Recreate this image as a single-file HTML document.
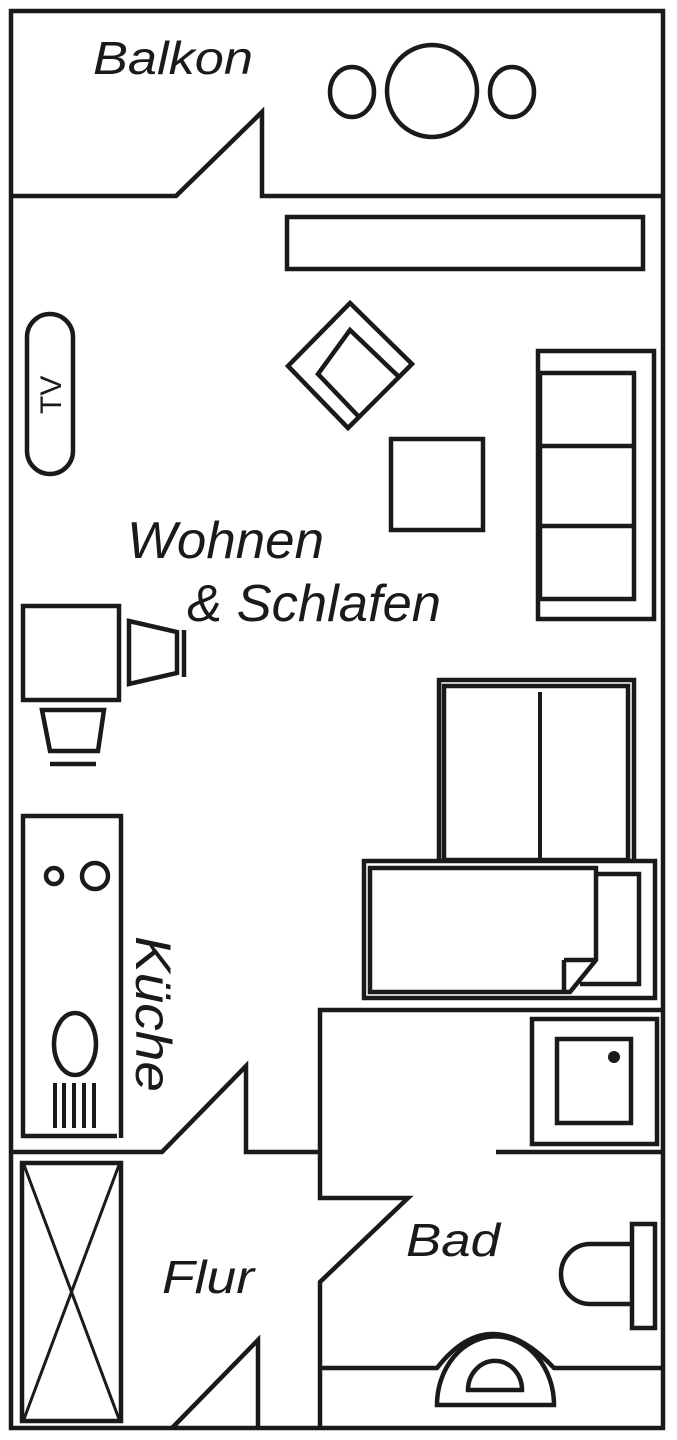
<!DOCTYPE html>
<html><head><meta charset="utf-8"><style>html,body{margin:0;padding:0;background:#fff}svg{display:block}</style></head>
<body>
<svg width="677" height="1440" viewBox="0 0 677 1440" xmlns="http://www.w3.org/2000/svg">
<g fill="none" stroke="#1a1a1a" stroke-width="4.5" stroke-linejoin="miter">
<!-- outer -->
<rect x="11" y="11" width="652" height="1417"/>
<!-- balcony wall -->
<polyline points="11,196 176,196 262,112 262,196 663,196"/>
<!-- table -->
<ellipse cx="432" cy="91" rx="45" ry="46"/>
<ellipse cx="352" cy="92" rx="22" ry="25"/>
<ellipse cx="512" cy="92" rx="22" ry="25"/>
<!-- shelf -->
<rect x="287" y="217" width="356" height="52"/>
<!-- diamond chair -->
<polygon points="350,303 412,364 348,428 288,366"/>
<polyline points="398,376 350,330 318,374 360,418"/>
<!-- table -->
<rect x="391" y="439" width="92" height="91"/>
<!-- sofa -->
<rect x="538" y="351" width="116" height="268"/>
<rect x="540" y="373" width="94" height="226"/>
<line x1="540" y1="446" x2="634" y2="446"/>
<line x1="540" y1="526" x2="634" y2="526"/>
<!-- TV -->
<rect x="27" y="314" width="46" height="160" rx="23"/>
<!-- desk -->
<rect x="23" y="606" width="96" height="94"/>
<polygon points="129,621 177,632 177,673 129,684"/>
<line x1="184" y1="630" x2="184" y2="677"/>
<polygon points="42,710 104,710 98,751 50,751"/>
<line x1="50" y1="764" x2="96" y2="764"/>
<!-- wardrobe -->
<polyline points="439,860 439,680 634,680 634,860"/>
<rect x="444" y="686" width="184" height="174"/>
<line x1="540" y1="692" x2="540" y2="860" stroke-width="4"/>
<!-- bed -->
<rect x="364" y="861" width="291" height="137"/>
<polygon points="370,868 596,868 596,960 570,992 370,992"/>
<polyline points="564,960 596,960"/>
<line x1="564" y1="960" x2="564" y2="992"/>
<polyline points="596,874 639,874 639,984 580,984"/>
<!-- kitchen -->
<polyline points="117,1136 23,1136 23,816 121,816 121,1138"/>
<circle cx="54" cy="876" r="8"/>
<circle cx="95" cy="876" r="13"/>
<ellipse cx="75" cy="1044" rx="21" ry="31"/>
<g stroke-width="4">
<line x1="55" y1="1083" x2="55" y2="1128"/>
<line x1="64" y1="1083" x2="64" y2="1128"/>
<line x1="74" y1="1083" x2="74" y2="1128"/>
<line x1="84" y1="1083" x2="84" y2="1128"/>
<line x1="94" y1="1083" x2="94" y2="1128"/>
</g>
<!-- kitchen/flur wall -->
<polyline points="11,1152 162,1152 246,1066 246,1152 320,1152"/>
<!-- bath walls -->
<polyline points="663,1010 320,1010 320,1198 408,1198 320,1282 320,1428"/>
<line x1="496" y1="1152" x2="663" y2="1152"/>
<!-- shower -->
<rect x="532" y="1019" width="125" height="125"/>
<rect x="557" y="1039" width="74" height="84"/>
<!-- toilet -->
<rect x="632" y="1224" width="23" height="104"/>
<path d="M632,1244 H590 A29,30 0 0 0 590,1304 H632"/>
<!-- sink -->
<path d="M320,1368 H437 Q490,1300 554,1368 H663"/>
<path d="M437,1405 A58,68 0 0 1 554,1405 Z"/>
<path d="M468,1390 A26,28 0 0 1 522,1390 Z"/>
<!-- flur wardrobe -->
<rect x="22" y="1163" width="99" height="258"/>
<line x1="24" y1="1165" x2="119" y2="1419" stroke-width="3"/>
<line x1="119" y1="1165" x2="24" y2="1419" stroke-width="3"/>
<!-- flur door -->
<polyline points="172,1428 258,1340 258,1428"/>
</g>
<circle cx="614" cy="1057" r="6" fill="#1a1a1a"/>
<g font-family="Liberation Sans, sans-serif" font-style="italic" fill="#1a1a1a">
<text x="93" y="74" font-size="46" textLength="160" lengthAdjust="spacingAndGlyphs">Balkon</text>
<text x="127" y="558" font-size="52" textLength="197" lengthAdjust="spacingAndGlyphs">Wohnen</text>
<text x="187" y="621" font-size="52" textLength="254" lengthAdjust="spacingAndGlyphs">&amp; Schlafen</text>
<text x="162" y="1293" font-size="46" textLength="92" lengthAdjust="spacingAndGlyphs">Flur</text>
<text x="406" y="1256" font-size="46" textLength="94" lengthAdjust="spacingAndGlyphs">Bad</text>
<text transform="translate(136,936) rotate(90)" font-size="50" textLength="156" lengthAdjust="spacingAndGlyphs">Küche</text>
</g>
<text transform="translate(61,414) rotate(-90)" font-family="Liberation Sans, sans-serif" font-size="30" fill="#1a1a1a">TV</text>
</svg>
</body></html>
